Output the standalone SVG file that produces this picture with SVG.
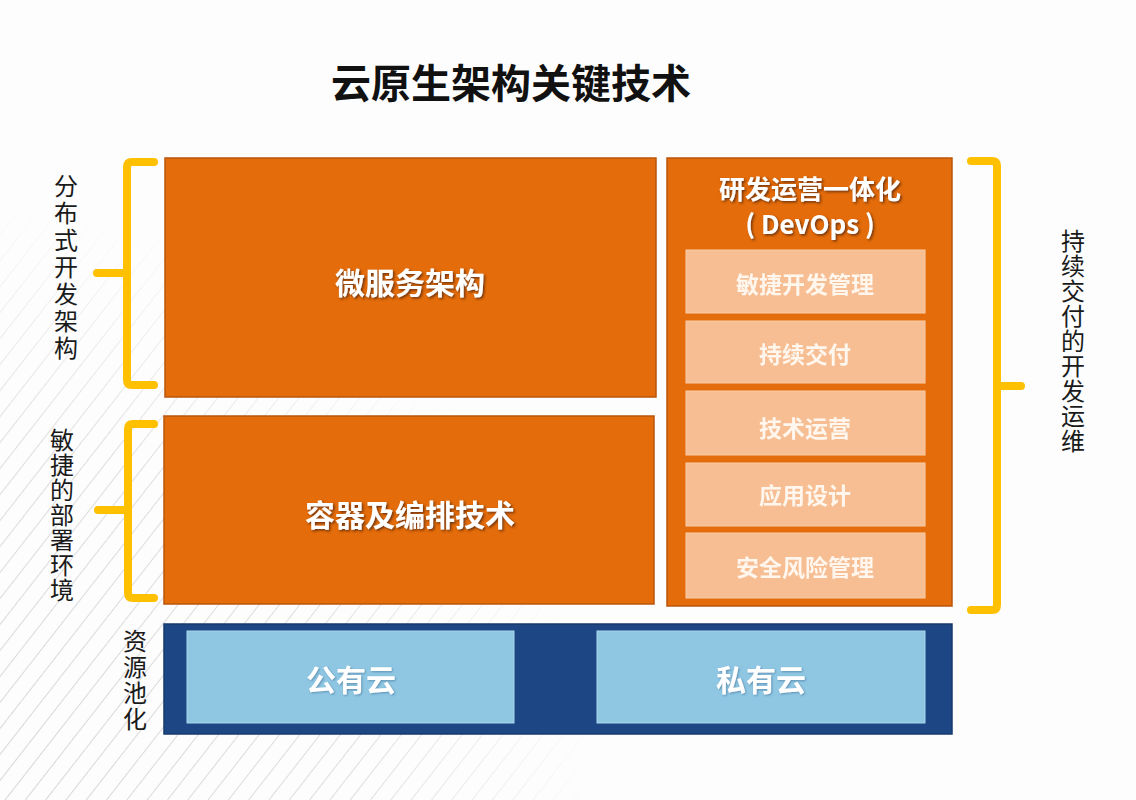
<svg xmlns="http://www.w3.org/2000/svg" width="1136" height="800" viewBox="0 0 1136 800">
  <defs>
    <style>
      .orange { fill: #E46C0A; stroke: #B9560C; stroke-width: 1.5; }
      .sub { fill: #F6BE92; stroke: #F9CDA8; stroke-width: 1; }
      .blue { fill: #1C4784; stroke: #163a6c; stroke-width: 1.5; }
      .lblue { fill: #8FC7E3; stroke: #A8D6EC; stroke-width: 1; }
      .brk { fill: none; stroke: #FFC000; stroke-width: 8; stroke-linecap: round; stroke-linejoin: round; }
      .t { font-family: "Noto Sans CJK SC", "Noto Sans", sans-serif; text-anchor: middle; }
      .title { font-size: 40px; font-weight: 700; fill: #111; }
      .big { font-size: 30px; font-weight: 700; fill: #FFFFFF; filter: url(#sh); }
      .dev { font-size: 26px; font-weight: 700; fill: #FFFFFF; filter: url(#sh); }
      .subt { font-size: 23px; font-weight: 700; fill: #FFF6EE; filter: url(#soft); }
      .cloud { font-size: 30px; font-weight: 700; fill: #FFFFFF; filter: url(#sh2); }
      .side { font-family: "Noto Sans CJK SC", "Noto Sans", sans-serif; font-size: 24px; font-weight: 400; fill: #1a1a1a; writing-mode: vertical-rl; text-anchor: start; }
    </style>
    <filter id="sh" x="-10%" y="-30%" width="120%" height="160%">
      <feDropShadow dx="1.5" dy="1.5" stdDeviation="1" flood-color="#4a2408" flood-opacity="0.75"/>
    </filter>
    <filter id="sh2" x="-10%" y="-30%" width="120%" height="160%">
      <feDropShadow dx="1" dy="1" stdDeviation="1" flood-color="#3a6a90" flood-opacity="0.6"/>
    </filter>
    <filter id="soft" x="-10%" y="-30%" width="120%" height="160%">
      <feGaussianBlur stdDeviation="0.6"/>
    </filter>
    <pattern id="stripes" patternUnits="userSpaceOnUse" width="16" height="16" patternTransform="rotate(38)">
      <line x1="0" y1="0" x2="0" y2="16" stroke="#D6D6D6" stroke-width="2"/>
    </pattern>
    <radialGradient id="fadeBL" cx="0" cy="800" r="600" gradientUnits="userSpaceOnUse">
      <stop offset="0" stop-color="#fff" stop-opacity="1"/>
      <stop offset="0.6" stop-color="#fff" stop-opacity="0.8"/>
      <stop offset="1" stop-color="#fff" stop-opacity="0"/>
    </radialGradient>
    <mask id="m">
      <rect width="1136" height="800" fill="url(#fadeBL)"/>
    </mask>
  </defs>

  <rect width="1136" height="800" fill="#FDFDFD"/>
  <rect width="1136" height="800" fill="url(#stripes)" mask="url(#m)"/>

  <g id="title">
    <text class="t title" x="511" y="98">云原生架构关键技术</text>
  </g>

  <g id="microservice">
    <rect class="orange" x="165" y="158" width="491" height="239"/>
    <text class="t big" x="410" y="294">微服务架构</text>
  </g>

  <g id="container">
    <rect class="orange" x="164" y="416" width="490" height="188"/>
    <text class="t big" x="410" y="526">容器及编排技术</text>
  </g>

  <g id="devops">
    <rect class="orange" x="667" y="158" width="285" height="448"/>
    <text class="t dev" x="810" y="199">研发运营一体化</text>
    <text class="t dev" x="810" y="234">( DevOps )</text>
  </g>

  <g id="agile">
    <rect class="sub" x="686" y="250" width="239" height="63"/>
    <text class="t subt" x="805" y="293">敏捷开发管理</text>
  </g>
  <g id="cd">
    <rect class="sub" x="686" y="321" width="239" height="62"/>
    <text class="t subt" x="805" y="363">持续交付</text>
  </g>
  <g id="techops">
    <rect class="sub" x="686" y="391" width="239" height="64"/>
    <text class="t subt" x="805" y="437">技术运营</text>
  </g>
  <g id="appdesign">
    <rect class="sub" x="686" y="463" width="239" height="63"/>
    <text class="t subt" x="805" y="504">应用设计</text>
  </g>
  <g id="security">
    <rect class="sub" x="686" y="533" width="239" height="65"/>
    <text class="t subt" x="805" y="576">安全风险管理</text>
  </g>

  <g id="resource-pool">
    <rect class="blue" x="164" y="624" width="788" height="110"/>
  </g>
  <g id="public-cloud">
    <rect class="lblue" x="187" y="631" width="327" height="92"/>
    <text class="t cloud" x="351" y="691">公有云</text>
  </g>
  <g id="private-cloud">
    <rect class="lblue" x="597" y="631" width="328" height="92"/>
    <text class="t cloud" x="761" y="691">私有云</text>
  </g>

  <g id="connectors">
    <path class="brk" d="M154,162 H132 Q127,162 127,167 V380 Q127,385 132,385 H154 M127,273 H97"/>
    <path class="brk" d="M154,424 H133 Q128,424 128,429 V593 Q128,598 133,598 H154 M128,510 H98"/>
    <path class="brk" d="M971,161 H992 Q997,161 997,166 V605 Q997,610 992,610 H971 M997,386 H1021"/>
  </g>

  <g id="label-distributed">
    <text class="side" x="66" y="174" letter-spacing="3">分布式开发架构</text>
  </g>
  <g id="label-agile-deploy">
    <text class="side" x="62" y="428" letter-spacing="1">敏捷的部署环境</text>
  </g>
  <g id="label-pool">
    <text class="side" x="135" y="629" letter-spacing="2">资源池化</text>
  </g>
  <g id="label-devops">
    <text class="side" x="1073" y="229" letter-spacing="1">持续交付的开发运维</text>
  </g>
</svg>
